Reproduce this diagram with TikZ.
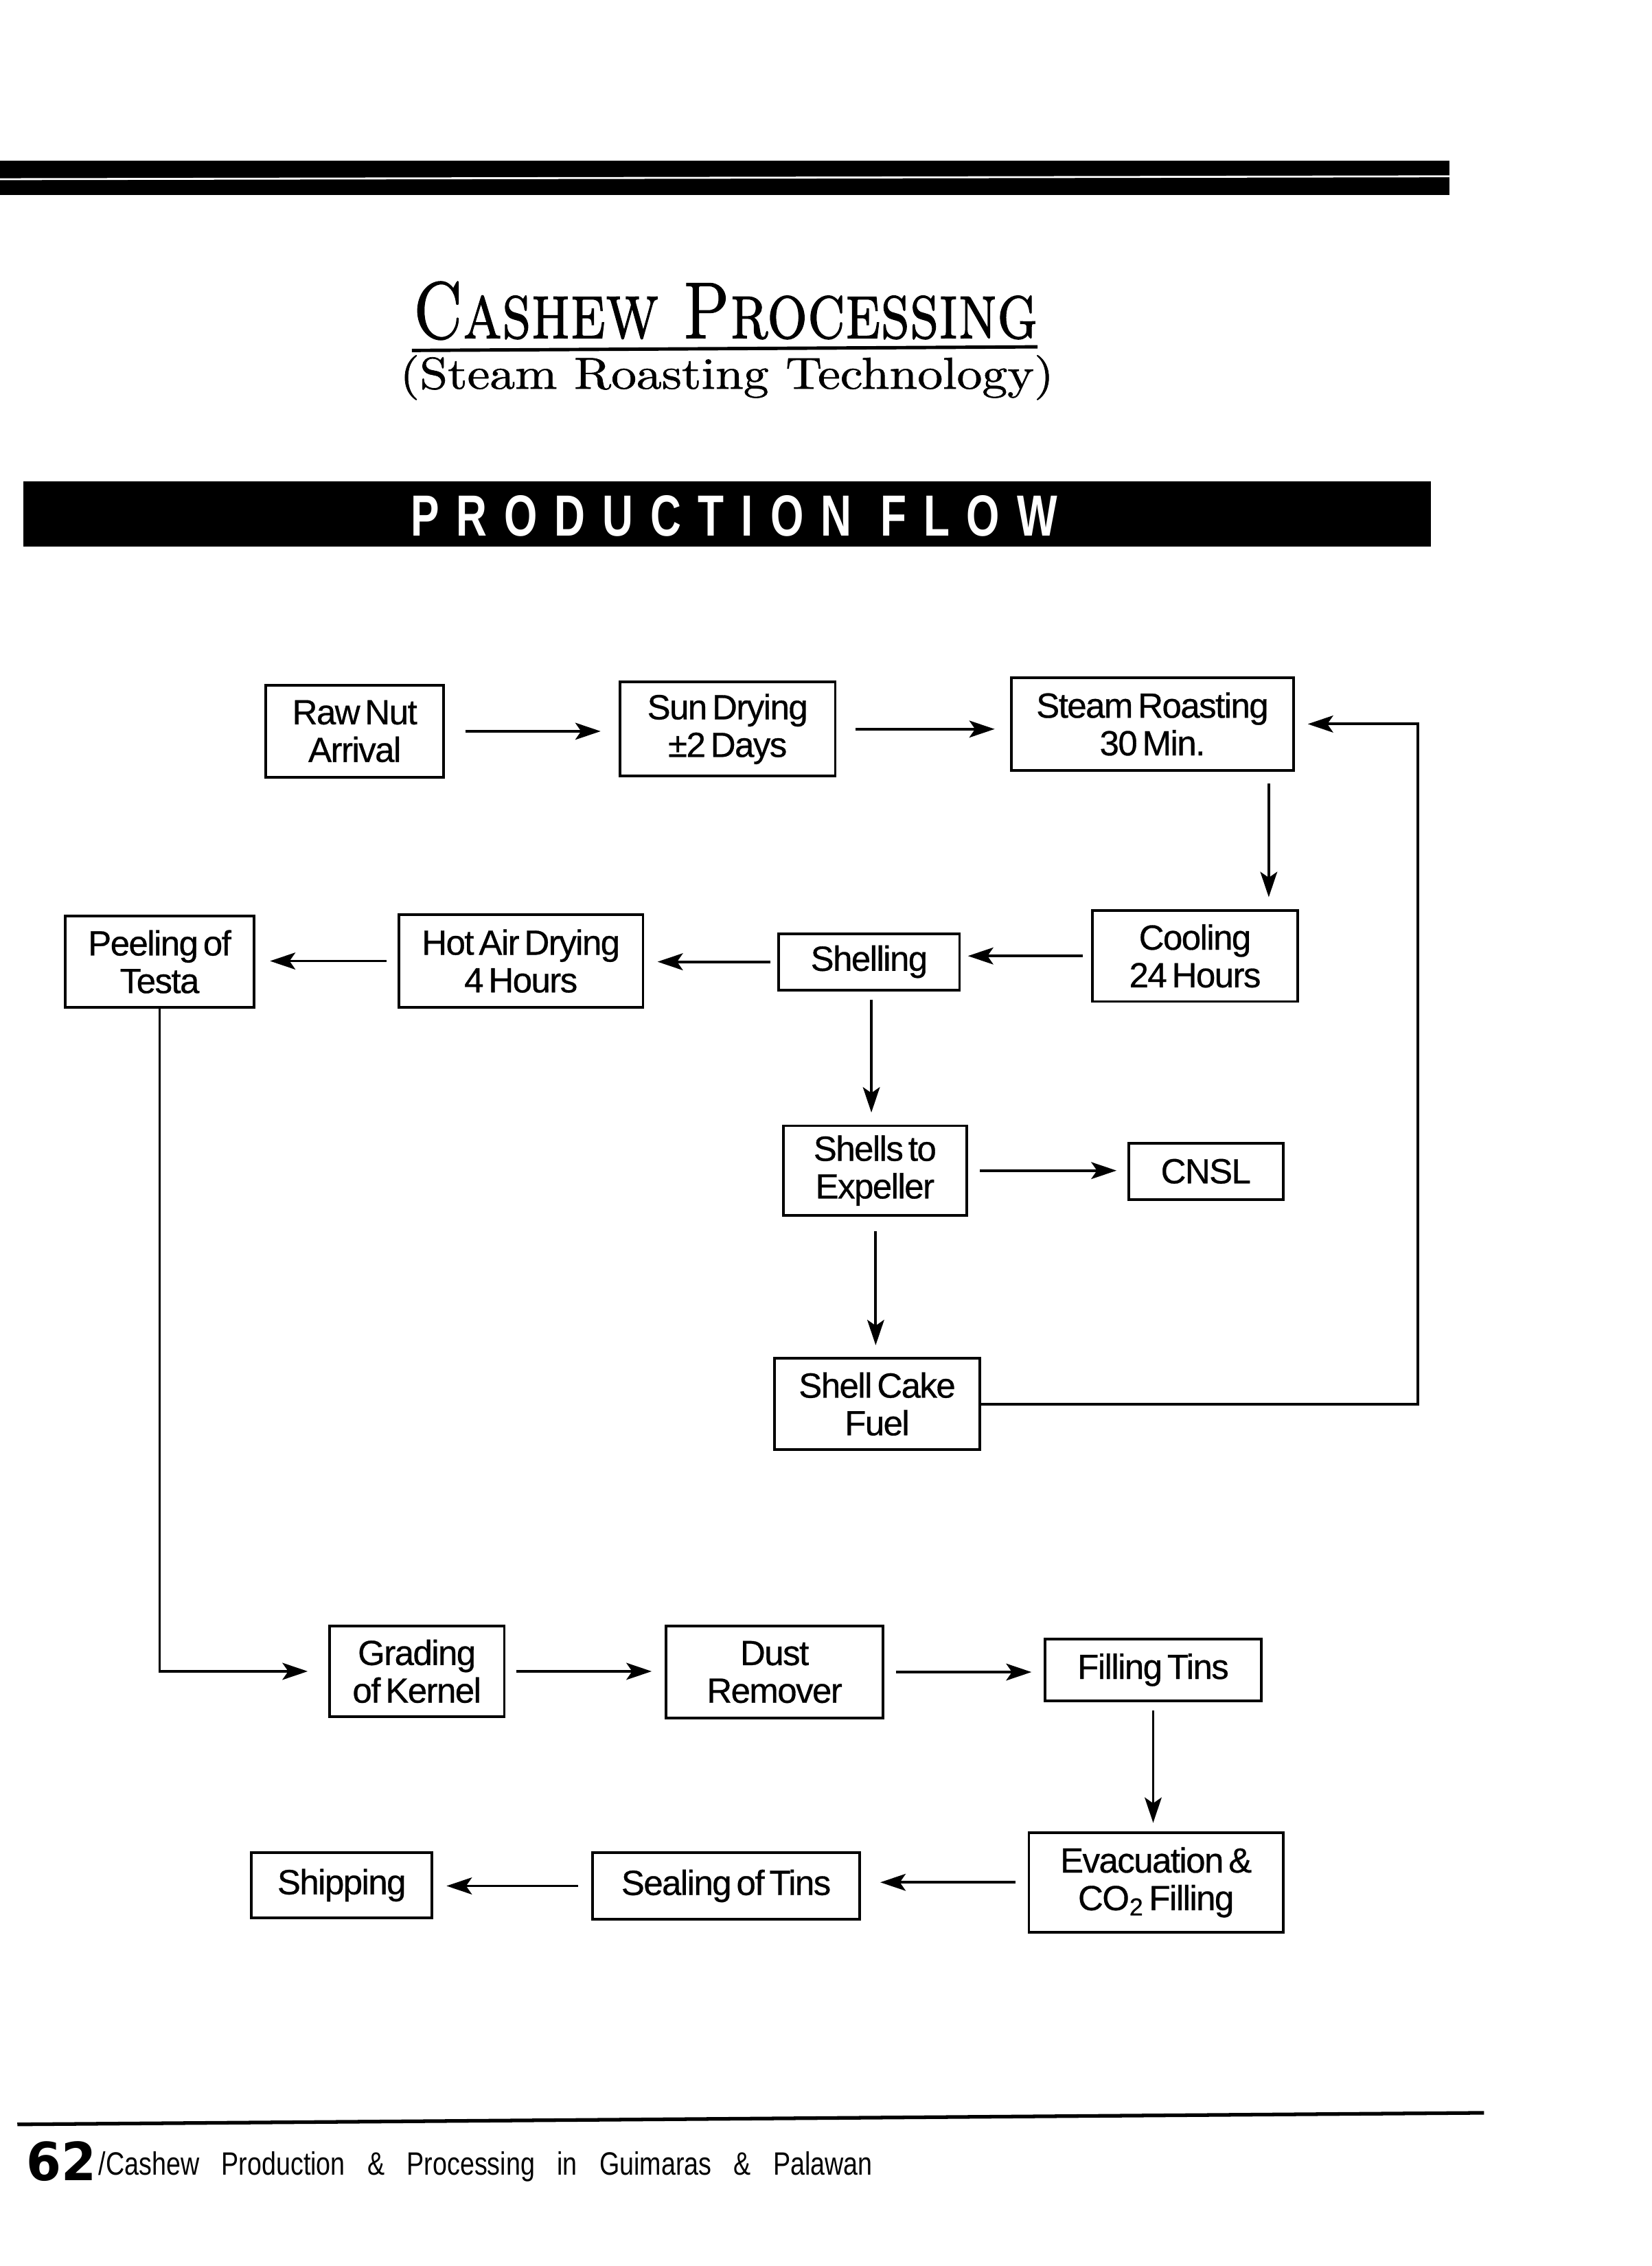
\documentclass[tikz,border=0pt]{standalone}
\usepackage{fontspec}
\newfontfamily\boxfont[LetterSpace=-3,WordSpace=0.55,FakeBold=0.6]{Liberation Sans}
\newfontfamily\barfont[LetterSpace=40]{Liberation Sans}
\newfontfamily\footfont[WordSpace=3.1]{Liberation Sans}
\newfontfamily\numfont{DejaVu Sans}
\newfontfamily\titlecaps[FakeBold=1.2]{lmromancaps10-regular.otf}
\newfontfamily\titlefont[FakeBold=1.0]{lmroman10-regular.otf}
\usetikzlibrary{arrows.meta,calc}
\tikzset{
  box/.style={draw, line width=1.1pt, inner sep=0pt, outer sep=0pt, align=center,
    font=\boxfont\fontsize{14.5}{15.6}\selectfont},
  arr/.style={line width=1.1pt, -{Stealth[length=10.5pt,width=7pt,inset=2.4pt]}},
}
\newcommand\bx[6]{\node[box, minimum width={(#4-#2)*0.02105cm}, minimum height={(#5-#3)*0.02105cm}] (#1) at ({(#2+#4)/2},{(#3+#5)/2}) {#6};}
\begin{document}
\begin{tikzpicture}[x=0.02105cm, y=-0.02105cm]
\useasboundingbox (0,0) rectangle (1143,1568);
% top bar
\fill[black] (0,111) rectangle (1003,135);
\draw[white, line width=0.8pt] (0,124) -- (1003,122);
% title
\node[anchor=base, inner sep=0] (title) at (502,234) {\resizebox{259pt}{23.5pt}{\titlecaps Cashew Processing}};
\draw[line width=1.4pt] (285,242.5) -- (718,240);
\node[anchor=base, inner sep=0] (subtitle) at (503,269) {\resizebox{271pt}{13.9pt}{\titlefont (Steam Roasting Technology)}};
% production flow bar
\fill[black] (16,333) rectangle (990,378);
\node[inner sep=0, text=white] (pf) at (508,357) {\resizebox{268pt}{16.8pt}{\barfont\bfseries PRODUCTION FLOW}};
% boxes
\bx{raw}{184}{474}{307}{538}{Raw Nut\\Arrival}
\bx{sun}{429}{472}{578}{537}{Sun Drying\\±2 Days}
\bx{steam}{700}{469}{895}{533}{Steam Roasting\\30 Min.}
\bx{cool}{756}{630}{898}{693}{Cooling\\24 Hours}
\bx{shell}{539}{646}{664}{685}{Shelling}
\bx{hot}{276}{633}{445}{697}{Hot Air Drying\\4 Hours}
\bx{peel}{45}{634}{176}{697}{Peeling of\\Testa}
\bx{exp}{542}{779}{669}{841}{Shells to\\Expeller}
\bx{cnsl}{781}{791}{888}{830}{CNSL}
\bx{cake}{536}{940}{678}{1003}{Shell Cake\\Fuel}
\bx{grade}{228}{1125}{349}{1188}{Grading\\of Kernel}
\bx{dust}{461}{1125}{611}{1189}{Dust\\Remover}
\bx{fill}{723}{1134}{873}{1177}{Filling Tins}
\bx{evac}{712}{1268}{888}{1337}{Evacuation \&\\CO\textsubscript{2} Filling}
\bx{seal}{410}{1282}{595}{1328}{Sealing of Tins}
\bx{ship}{174}{1282}{299}{1327}{Shipping}
% vertical arrow columns
\coordinate (c1) at (878,0);
\coordinate (c2) at (603,0);
\coordinate (c3) at (606,0);
\coordinate (c4) at (798,0);
\coordinate (fb) at (981,0);
% arrows
\draw[arr, shorten <=9pt, shorten >=8pt] (raw.east) -- (raw.east -| sun.west);
\draw[arr, shorten <=8.5pt, shorten >=7pt] (sun.east) -- (sun.east -| steam.west);
\draw[arr, shorten <=5.5pt, shorten >=5.5pt] (steam.south -| c1) -- (cool.north -| c1);
\draw[arr, shorten <=4pt, shorten >=3.5pt] (cool.west) -- (cool.west -| shell.east);
\draw[arr, shorten <=3.5pt, shorten >=6pt] (shell.west) -- (shell.west -| hot.east);
\draw[arr, shorten <=5pt, shorten >=6.5pt] (hot.west) -- (hot.west -| peel.east);
\draw[arr, shorten <=4pt, shorten >=5.5pt] (shell.south -| c2) -- (exp.north -| c2);
\draw[arr, shorten <=5.5pt, shorten >=5pt] (exp.east) -- (exp.east -| cnsl.west);
\draw[arr, shorten <=6.5pt, shorten >=5.5pt] (exp.south -| c3) -- (cake.north -| c3);
\draw[arr, shorten >=6pt] (cake.east) -- (cake.east -| fb) -- (fb |- steam.east) -- (steam.east);
\draw[arr, shorten >=9pt] (peel.south) |- (grade.west);
\draw[arr, shorten <=5pt, shorten >=6pt] (grade.east) -- (grade.east -| dust.west);
\draw[arr, shorten <=5.5pt, shorten >=5.5pt] (dust.east) -- (dust.east -| fill.west);
\draw[arr, shorten <=4pt, shorten >=4pt] (fill.south -| c4) -- (evac.north -| c4);
\draw[arr, shorten <=5.5pt, shorten >=8.5pt] (evac.west) -- (evac.west -| seal.east);
\draw[arr, shorten <=6pt, shorten >=6pt] (seal.west) -- (seal.west -| ship.east);
% footer
\draw[line width=1.5pt] (12,1470) -- (520,1466) -- (1027,1462);
\node[anchor=base west, inner sep=0] (pnum) at (18,1509) {\resizebox{29pt}{16.2pt}{\numfont\bfseries 62}};
\node[anchor=base west, inner sep=0] (ftext) at (68,1505) {\scalebox{0.8}[1]{\footfont\fontsize{13.4}{16}\selectfont /Cashew Production \& Processing in Guimaras \& Palawan}};
\end{tikzpicture}
\end{document}
